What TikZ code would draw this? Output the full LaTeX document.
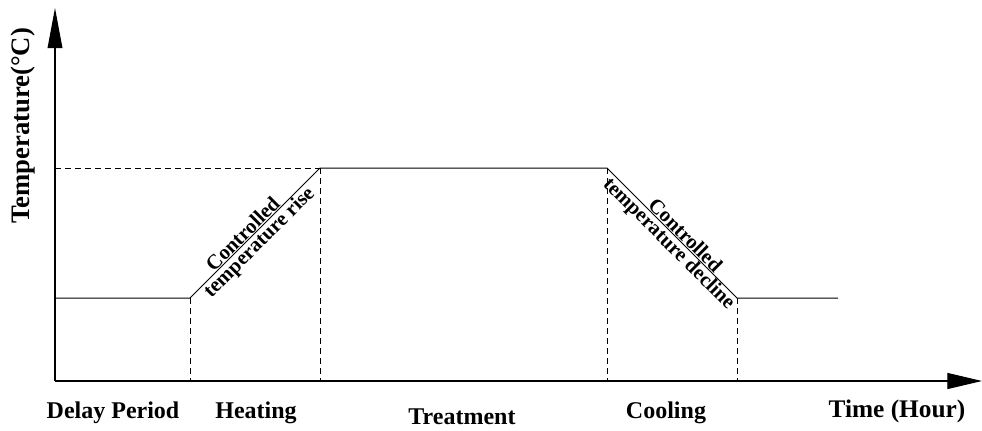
\documentclass[tikz,border=0pt]{standalone}
\usepackage{fontspec}
\setmainfont{Liberation Serif}
\usetikzlibrary{arrows.meta,positioning}

\begin{document}
\begin{tikzpicture}[
  x=0.75pt, y=-0.75pt,
  font=\bfseries,
  axis/.style={line width=0.9pt},
  curve/.style={line width=0.75pt},
  guide/.style={line width=0.7pt, dash pattern=on 4.5pt off 3pt},
  phase/.style={font=\fontsize{18}{20}\selectfont\bfseries, inner sep=0pt},
  ramp/.style={font=\fontsize{15.5}{16}\selectfont\bfseries, sloped, inner sep=0.5pt}
]
\useasboundingbox (0,0) rectangle (982,430);

% axes
\coordinate (o) at (55,381);
\coordinate (ytop) at (55,8);
\coordinate (xend) at (982,381);
\draw[axis, -{Triangle[length=30pt, width=11pt]}] (o) -- (ytop);
\draw[axis, -{Triangle[length=26pt, width=12pt]}] (o) -- (xend);

% temperature profile
\coordinate (start) at (55,298);
\coordinate (h0) at (190,298);
\coordinate (h1) at (320,168);
\coordinate (c0) at (607,168);
\coordinate (c1) at (737,298);
\coordinate (stop) at (838,298);
\coordinate (tmax) at (55,168);

\draw[curve] (start) -- (h0)
  -- node[ramp, above, pos=0.45] {Controlled}
     node[ramp, below, pos=0.48] {temperature rise} (h1)
  -- (c0)
  -- node[ramp, above, pos=0.56] {Controlled}
     node[ramp, below, pos=0.53] {temperature decline} (c1)
  -- (stop);

\draw[guide] (tmax) -- (h1);
\foreach \p in {h0,h1,c0,c1}
  \draw[guide] (\p) -- (\p |- o);

% labels
\node[phase] (delay) at (113,413) {Delay Period};
\node[phase] (heat) at (256,413) {Heating};
\node[phase] (treat) at (462,417) {Treatment};
\node[phase] (cool) at (666,413) {Cooling};
\node[phase, font=\fontsize{19}{21}\selectfont\bfseries] (time) at (897,411) {Time (Hour)};
\node[phase, rotate=90, font=\fontsize{20}{22}\selectfont\bfseries] (temp) at (23,126) {Temperature(°C)};

\end{tikzpicture}
\end{document}
